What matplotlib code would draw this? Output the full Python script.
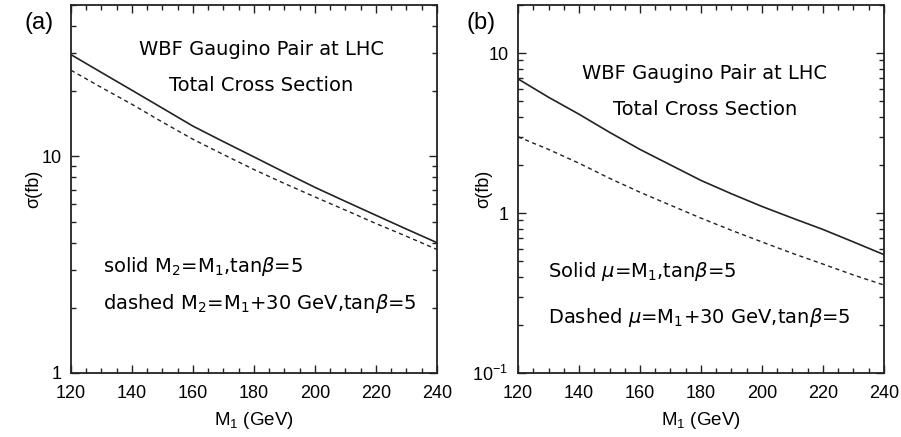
import matplotlib
matplotlib.use('Agg')
import matplotlib.pyplot as plt
from matplotlib.ticker import MultipleLocator, FixedLocator, NullFormatter

plt.rcParams['font.family'] = ['Liberation Sans', 'DejaVu Sans']
plt.rcParams['mathtext.fontset'] = 'dejavusans'

# M1 (GeV)
m1 = [120, 130, 140, 150, 160, 170, 180, 190, 200, 210, 220, 230, 240]

# panel (a): M2 = M1 (solid), M2 = M1 + 30 GeV (dashed)
a_solid = [29.5, 24.4, 20.2, 16.7, 13.8, 11.7, 9.95, 8.45, 7.2, 6.2, 5.35, 4.62, 4.0]
a_dashed = [25.0, 20.8, 17.4, 14.4, 12.0, 10.2, 8.7, 7.5, 6.5, 5.65, 4.9, 4.28, 3.72]

# panel (b): mu = M1 (solid), mu = M1 + 30 GeV (dashed)
b_solid = [6.9, 5.3, 4.15, 3.2, 2.5, 2.0, 1.6, 1.32, 1.1, 0.93, 0.79, 0.66, 0.55]
b_dashed = [3.0, 2.5, 2.05, 1.65, 1.35, 1.12, 0.93, 0.78, 0.66, 0.56, 0.48, 0.41, 0.355]

x_ticks = [120, 140, 160, 180, 200, 220, 240]
a_yticks = [1, 10]
a_ylabels = ['1', '10']
b_yticks = [0.1, 1, 10]
b_ylabels = ['$\\mathregular{10^{-1}}$', '1', '10']

fig = plt.figure(figsize=(9.01, 4.37), dpi=100)
ax1 = fig.add_axes([0.0788, 0.1465, 0.406, 0.842])
ax2 = fig.add_axes([0.575, 0.1465, 0.406, 0.842])

txt_font = ['DejaVu Sans']
fs = 14


def style(ax, yt, yl, ylim, ylab_x):
    ax.set_yscale('log')
    ax.set_xlim(120, 240)
    ax.set_ylim(*ylim)
    ax.xaxis.set_major_locator(FixedLocator(x_ticks))
    ax.xaxis.set_minor_locator(MultipleLocator(5))
    ax.set_xticklabels([str(t) for t in x_ticks])
    ax.yaxis.set_major_locator(FixedLocator(yt))
    ax.set_yticklabels(yl)
    ax.yaxis.set_minor_formatter(NullFormatter())
    ax.tick_params(which='both', direction='in', top=True, right=True,
                   labelsize=13, width=1, color='#222222')
    ax.tick_params(which='major', length=6)
    ax.tick_params(which='minor', length=3.5)
    ax.tick_params(axis='x', which='major', pad=9)
    ax.tick_params(axis='y', which='major', pad=7)
    for sp in ax.spines.values():
        sp.set_linewidth(1.3)
        sp.set_color('#222222')
    ax.set_xlabel('M$_\\mathregular{1}$ (GeV)', fontsize=13.5)
    ax.xaxis.set_label_coords(0.5, -0.1)
    ax.set_ylabel('σ(fb)', fontsize=13)
    ax.yaxis.set_label_coords(ylab_x, 0.5)


ax1.plot(m1, a_solid, color='#222222', lw=1.2)
ax1.plot(m1, a_dashed, color='#222222', lw=1.0, linestyle=(0, (3, 2.5)))
style(ax1, a_yticks, a_ylabels, (1, 50), -0.079)

ax2.plot(m1, b_solid, color='#222222', lw=1.2)
ax2.plot(m1, b_dashed, color='#222222', lw=1.0, linestyle=(0, (3, 2.5)))
style(ax2, b_yticks, b_ylabels, (0.1, 20), -0.071)

# annotations
ax1.text(0.52, 0.88, 'WBF Gaugino Pair at LHC', transform=ax1.transAxes,
         ha='center', va='center', fontsize=fs, family=txt_font)
ax1.text(0.52, 0.78, 'Total Cross Section', transform=ax1.transAxes,
         ha='center', va='center', fontsize=fs, family=txt_font)
ax1.text(0.087, 0.29, 'solid M$_2$=M$_1$,tan$\\beta$=5', transform=ax1.transAxes,
         ha='left', va='center', fontsize=fs, family=txt_font)
ax1.text(0.087, 0.19, 'dashed M$_2$=M$_1$+30 GeV,tan$\\beta$=5', transform=ax1.transAxes,
         ha='left', va='center', fontsize=fs, family=txt_font)

ax2.text(0.51, 0.815, 'WBF Gaugino Pair at LHC', transform=ax2.transAxes,
         ha='center', va='center', fontsize=fs, family=txt_font)
ax2.text(0.51, 0.715, 'Total Cross Section', transform=ax2.transAxes,
         ha='center', va='center', fontsize=fs, family=txt_font)
ax2.text(0.082, 0.275, 'Solid $\\mu$=M$_1$,tan$\\beta$=5', transform=ax2.transAxes,
         ha='left', va='center', fontsize=fs, family=txt_font)
ax2.text(0.082, 0.15, 'Dashed $\\mu$=M$_1$+30 GeV,tan$\\beta$=5', transform=ax2.transAxes,
         ha='left', va='center', fontsize=fs, family=txt_font)

fig.text(24 / 901, 1 - 23 / 437, '(a)', fontsize=17, ha='left', va='center')
fig.text(466 / 901, 1 - 23 / 437, '(b)', fontsize=17, ha='left', va='center')

fig.savefig('out.png', dpi=100)
